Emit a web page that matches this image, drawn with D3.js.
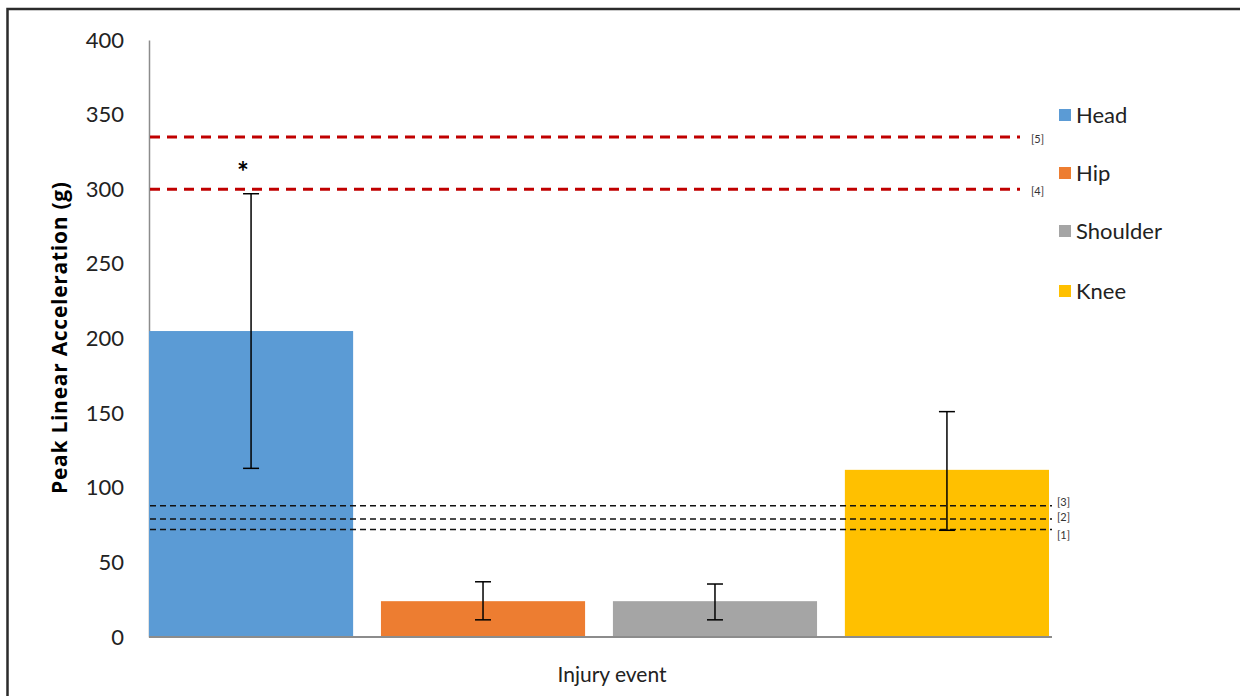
<!DOCTYPE html>
<html>
<head>
<meta charset="utf-8">
<script src="https://cdn.jsdelivr.net/npm/d3@7"></script>
<style>
  html, body { margin: 0; padding: 0; background: #fff; }
  svg { display: block; font-family: Lato, "Open Sans", sans-serif; }
</style>
</head>
<body>
<svg id="chart" width="1240" height="696"></svg>
<script>
// Injury event categories and their mean peak linear acceleration (g)
const categories = ["Head", "Hip", "Shoulder", "Knee"];
const meanValues = [205, 24, 24, 112];
const errorLow   = [113, 11.5, 11.5, 71.5];
const errorHigh  = [297, 37, 35.5, 151];
const barColors  = ["#5B9BD5", "#ED7D31", "#A5A5A5", "#FFC000"];

// Reference thresholds from literature
const redThresholds   = [335, 300];
const redLabels       = ["[5]", "[4]"];
const blackThresholds = [88, 79, 72];
const blackLabels     = ["[3]", "[2]", "[1]"];
const blackLabelShift = [0, 2, 9];

const yTicks = [0, 50, 100, 150, 200, 250, 300, 350, 400];

const svg = d3.select("#chart");

// Outer frame
svg.append("rect")
  .attr("x", 7.5).attr("y", 9).attr("width", 1240).attr("height", 700)
  .attr("fill", "none").attr("stroke", "#2b2b2b").attr("stroke-width", 2.5);

const y = d3.scaleLinear().domain([0, 400]).range([637, 40]);
const x = d3.scaleBand().domain(categories).range([149, 1049])
  .paddingInner(0.12).paddingOuter(0);

// Y axis
const yAxis = svg.append("g").attr("transform", "translate(149,0)")
  .call(d3.axisLeft(y).tickValues(yTicks).tickSize(0).tickPadding(25));
yAxis.select(".domain").attr("stroke", "#8c8c8c").attr("stroke-width", 1.5);
yAxis.selectAll("text").attr("font-size", 22).attr("fill", "#222")
  .attr("font-family", "Lato, sans-serif");

// Bars
svg.append("g").selectAll("rect").data(categories).join("rect")
  .attr("x", d => x(d))
  .attr("y", (d, i) => y(meanValues[i]))
  .attr("width", x.bandwidth())
  .attr("height", (d, i) => y(0) - y(meanValues[i]))
  .attr("fill", (d, i) => barColors[i]);

// X axis baseline
svg.append("line")
  .attr("x1", 149).attr("x2", 1052).attr("y1", y(0)).attr("y2", y(0))
  .attr("stroke", "#8c8c8c").attr("stroke-width", 2);

// Black dashed thresholds
blackThresholds.forEach((v, i) => {
  svg.append("line")
    .attr("x1", 150).attr("x2", 1052).attr("y1", y(v)).attr("y2", y(v))
    .attr("stroke", "#111").attr("stroke-width", 1.5)
    .attr("stroke-dasharray", "6,4");
  svg.append("text").attr("x", 1057).attr("y", y(v) + blackLabelShift[i])
    .attr("font-size", 11).attr("fill", "#333").text(blackLabels[i]);
});

// Red dashed thresholds
redThresholds.forEach((v, i) => {
  svg.append("line")
    .attr("x1", 150).attr("x2", 1020).attr("y1", y(v)).attr("y2", y(v))
    .attr("stroke", "#C00000").attr("stroke-width", 3)
    .attr("stroke-dasharray", "10,7");
  svg.append("text").attr("x", 1031).attr("y", y(v) + 6)
    .attr("font-size", 11).attr("fill", "#333").text(redLabels[i]);
});

// Error bars
const eb = svg.append("g").attr("stroke", "#000").attr("stroke-width", 1.5);
categories.forEach((c, i) => {
  const cx = x(c) + x.bandwidth() / 2;
  eb.append("line").attr("x1", cx).attr("x2", cx)
    .attr("y1", y(errorLow[i])).attr("y2", y(errorHigh[i]));
  [errorLow[i], errorHigh[i]].forEach(v => {
    eb.append("line").attr("x1", cx - 8).attr("x2", cx + 8)
      .attr("y1", y(v)).attr("y2", y(v));
  });
});

// Significance marker
svg.append("text")
  .attr("x", x("Head") + x.bandwidth() / 2 - 8).attr("y", y(297) - 12)
  .attr("text-anchor", "middle").attr("font-size", 28).attr("font-weight", "bold")
  .text("*");

// Legend
const legend = svg.append("g");
const legendY = [115, 173, 231, 291];
categories.forEach((c, i) => {
  legend.append("rect").attr("x", 1059).attr("y", legendY[i] - 6)
    .attr("width", 12).attr("height", 12).attr("fill", barColors[i]);
  legend.append("text").attr("x", 1076).attr("y", legendY[i] + 8)
    .attr("font-size", 22).attr("fill", "#222").text(c);
});

// Axis titles
svg.append("text")
  .attr("transform", "translate(67,338) rotate(-90)")
  .attr("text-anchor", "middle").attr("font-size", 21).attr("font-weight", "bold")
  .attr("font-family", "'Open Sans', sans-serif")
  .attr("textLength", 312).attr("lengthAdjust", "spacing")
  .attr("fill", "#000").text("Peak Linear Acceleration  (g)");

svg.append("text")
  .attr("x", 612).attr("y", 682).attr("text-anchor", "middle")
  .attr("font-size", 21).attr("fill", "#222").text("Injury event");
</script>
</body>
</html>
